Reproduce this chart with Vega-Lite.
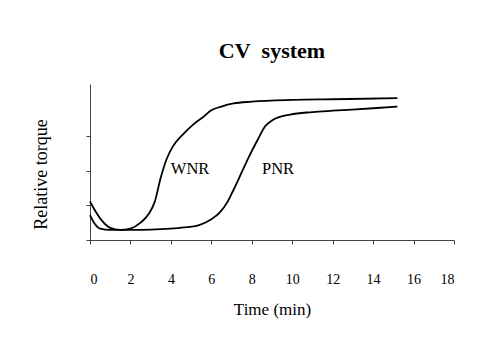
{
  "$schema": "https://vega.github.io/schema/vega-lite/v6.json",
  "autosize": "none",
  "width": 364,
  "height": 156,
  "padding": {"left": 90, "top": 84, "right": 41, "bottom": 109},
  "background": "white",
  "config": {"view": {"stroke": null}, "font": "Liberation Serif"},
  "title": {"text": "CV\u00a0\u00a0system", "font": "Liberation Serif", "fontSize": 22, "fontWeight": "bold", "color": "black", "anchor": "middle", "offset": 22, "baseline": "middle", "dy": 11},
  "layer": [
    {
      "data": {"values": [
        {"series": "WNR", "t": 0, "v": 1.11},
        {"series": "WNR", "t": 0.3, "v": 0.8},
        {"series": "WNR", "t": 0.6, "v": 0.55},
        {"series": "WNR", "t": 1.0, "v": 0.35},
        {"series": "WNR", "t": 1.5, "v": 0.29},
        {"series": "WNR", "t": 2.0, "v": 0.33},
        {"series": "WNR", "t": 2.5, "v": 0.5},
        {"series": "WNR", "t": 2.9, "v": 0.75},
        {"series": "WNR", "t": 3.2, "v": 1.1},
        {"series": "WNR", "t": 3.5, "v": 1.8},
        {"series": "WNR", "t": 3.8, "v": 2.35},
        {"series": "WNR", "t": 4.1, "v": 2.7},
        {"series": "WNR", "t": 4.6, "v": 3.05},
        {"series": "WNR", "t": 5.1, "v": 3.33},
        {"series": "WNR", "t": 5.6, "v": 3.55},
        {"series": "WNR", "t": 6.0, "v": 3.74},
        {"series": "WNR", "t": 6.5, "v": 3.85},
        {"series": "WNR", "t": 7.1, "v": 3.94},
        {"series": "WNR", "t": 8, "v": 3.99},
        {"series": "WNR", "t": 10, "v": 4.04},
        {"series": "WNR", "t": 12, "v": 4.06},
        {"series": "WNR", "t": 15.2, "v": 4.09},
        {"series": "PNR", "t": 0, "v": 0.72},
        {"series": "PNR", "t": 0.2, "v": 0.5},
        {"series": "PNR", "t": 0.5, "v": 0.33},
        {"series": "PNR", "t": 1.0, "v": 0.29},
        {"series": "PNR", "t": 2, "v": 0.29},
        {"series": "PNR", "t": 3, "v": 0.3},
        {"series": "PNR", "t": 4, "v": 0.33},
        {"series": "PNR", "t": 4.8, "v": 0.37},
        {"series": "PNR", "t": 5.4, "v": 0.43},
        {"series": "PNR", "t": 6.0, "v": 0.6},
        {"series": "PNR", "t": 6.4, "v": 0.78},
        {"series": "PNR", "t": 6.8, "v": 1.1},
        {"series": "PNR", "t": 7.1, "v": 1.45},
        {"series": "PNR", "t": 7.5, "v": 1.95},
        {"series": "PNR", "t": 7.9, "v": 2.45},
        {"series": "PNR", "t": 8.3, "v": 2.9},
        {"series": "PNR", "t": 8.66, "v": 3.28},
        {"series": "PNR", "t": 9.0, "v": 3.45},
        {"series": "PNR", "t": 9.9, "v": 3.62},
        {"series": "PNR", "t": 11, "v": 3.69},
        {"series": "PNR", "t": 12, "v": 3.73},
        {"series": "PNR", "t": 14, "v": 3.8},
        {"series": "PNR", "t": 15.2, "v": 3.85}
      ]},
      "mark": {"type": "line", "color": "black", "strokeWidth": 1.8, "interpolate": "monotone"},
      "encoding": {
        "x": {"field": "t", "type": "quantitative", "scale": {"domain": [0, 18], "nice": false},
          "axis": {"values": [0, 2, 4, 6, 8, 10, 12, 14, 16, 18], "grid": false, "title": "Time (min)",
            "domainColor": "#444", "tickColor": "#444", "tickSize": 4,
            "labelFont": "Liberation Serif", "labelFontSize": 14, "labelColor": "black", "labelPadding": 28,
            "titleFont": "Liberation Serif", "titleFontSize": 17, "titleFontWeight": "normal", "titleColor": "black", "titlePadding": 15}},
        "y": {"field": "v", "type": "quantitative", "scale": {"domain": [0, 4.5], "nice": false},
          "axis": {"values": [0, 1, 2, 3], "grid": false, "labels": false, "title": "Relative torque",
            "domainColor": "#444", "tickColor": "#444", "tickSize": 4,
            "titleFont": "Liberation Serif", "titleFontSize": 18, "titleFontWeight": "normal", "titleColor": "black",
            "titleAngle": -90, "titleAlign": "center", "titleBaseline": "middle", "titleX": -49, "titleY": 90}},
        "detail": {"field": "series"}
      }
    },
    {
      "data": {"values": [
        {"label": "WNR", "t": 4.95, "v": 2.06},
        {"label": "PNR", "t": 9.3, "v": 2.06}
      ]},
      "mark": {"type": "text", "font": "Liberation Serif", "fontSize": 16.5, "color": "black", "align": "center", "baseline": "middle"},
      "encoding": {
        "x": {"field": "t", "type": "quantitative"},
        "y": {"field": "v", "type": "quantitative"},
        "text": {"field": "label"}
      }
    }
  ]
}
